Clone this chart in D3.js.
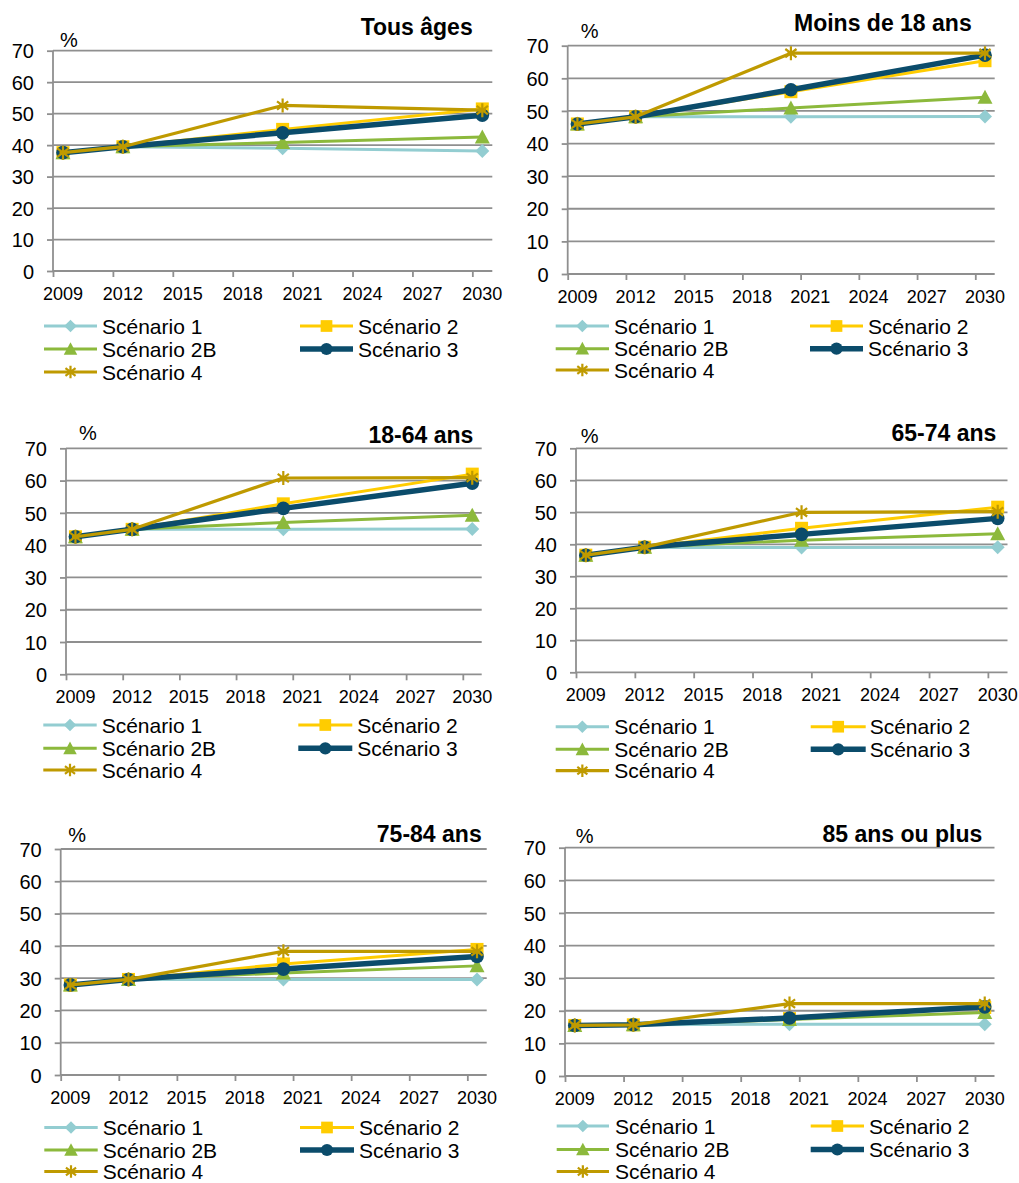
<!DOCTYPE html>
<html>
<head>
<meta charset="utf-8">
<script src="https://cdn.jsdelivr.net/npm/d3@7/dist/d3.min.js"></script>
<style>
  html, body { margin: 0; padding: 0; background: #fff; }
  svg { display: block; font-family: "Liberation Sans", Arial, sans-serif; }
</style>
</head>
<body>
<svg id="chart" width="1019" height="1183"></svg>
<script>
// ---------------- DATA ----------------
const years = [2009, 2012, 2020, 2030];
const xTickLabels = [2009, 2012, 2015, 2018, 2021, 2024, 2027, 2030];
const yTickValues = [0, 10, 20, 30, 40, 50, 60, 70];
const scenarios = ["Scénario 1", "Scénario 2", "Scénario 2B", "Scénario 3", "Scénario 4"];
const panelTitles = ["Tous âges", "Moins de 18 ans", "18-64 ans", "65-74 ans", "75-84 ans", "85 ans ou plus"];

// values per panel: one row per scenario (1, 2, 2B, 3, 4), columns = years
const tousAges = [
  [37.6, 39.5, 39.0, 38.1],
  [37.6, 39.5, 45.0, 51.5],
  [37.6, 39.5, 40.8, 42.6],
  [37.6, 39.5, 43.9, 49.5],
  [37.6, 39.5, 52.6, 51.1]
];
const moins18 = [
  [46.0, 48.2, 48.2, 48.3],
  [46.0, 48.2, 55.9, 65.4],
  [46.0, 48.2, 50.9, 54.2],
  [46.0, 48.2, 56.5, 67.1],
  [46.0, 48.2, 67.7, 67.7]
];
const ans18_64 = [
  [42.6, 44.9, 44.9, 45.0],
  [42.6, 44.9, 52.8, 62.0],
  [42.6, 44.9, 47.0, 49.3],
  [42.6, 44.9, 51.4, 59.2],
  [42.6, 44.9, 60.8, 60.9]
];
const ans65_74 = [
  [36.6, 39.1, 39.0, 39.1],
  [36.6, 39.1, 45.0, 51.6],
  [36.6, 39.1, 41.3, 43.3],
  [36.6, 39.1, 43.1, 48.1],
  [36.6, 39.1, 50.0, 50.2]
];
const ans75_84 = [
  [27.9, 29.6, 29.6, 29.6],
  [27.9, 29.6, 34.4, 38.9],
  [27.9, 29.6, 31.6, 33.8],
  [27.9, 29.6, 32.8, 36.7],
  [27.9, 29.6, 38.3, 38.3]
];
const ans85plus = [
  [15.5, 15.7, 15.9, 15.9],
  [15.5, 15.7, 17.6, 21.0],
  [15.5, 15.7, 17.3, 19.5],
  [15.5, 15.7, 17.8, 21.2],
  [15.5, 15.7, 22.2, 22.2]
];
const panelValues = [tousAges, moins18, ans18_64, ans65_74, ans75_84, ans85plus];

// ---------------- STYLE / LAYOUT ----------------
const colors = ["#93CDD1", "#FFCC00", "#8CB93C", "#0B4C6B", "#BF9A00"];
const widths = [3, 3, 3, 5.5, 3.2];
const markers = ["diamond", "square", "triangle", "circle", "star"];
const gridColor = "#8F8F8F";

const layout = [
  {l: 53,    r: 492.3, t: 50.7,  b: 271,    tx: 472.7, ty: 35,    px: 60,    py: 47,    rows: [326, 349, 372],       c1: [44, 97, 102],        c2: [300, 353, 358]},
  {l: 567.7, r: 994.7, t: 45.7,  b: 274,    tx: 971.7, ty: 30.7,  px: 580.7, py: 38,    rows: [326, 348.7, 370],     c1: [555.7, 609, 614],    c2: [810, 863, 868]},
  {l: 66,    r: 481.7, t: 448.3, b: 674.3,  tx: 473.3, ty: 442.7, px: 79,    py: 440,   rows: [725, 748.3, 770],     c1: [43.3, 96.7, 101.7],  c2: [298.3, 352.3, 357.3]},
  {l: 576,   r: 1007.5,t: 448.3, b: 672.3,  tx: 996.3, ty: 440.7, px: 580.7, py: 443.3, rows: [726.7, 749.3, 770.7], c1: [555.7, 609, 614.3],  c2: [810.7, 865.7, 869.7]},
  {l: 60.7,  r: 486.7, t: 849,   b: 1075,   tx: 481.7, ty: 841.7, px: 68.3,  py: 841.7, rows: [1127.5, 1150, 1171.5],c1: [44.3, 97.7, 102.7],  c2: [300, 354, 359]},
  {l: 565,   r: 994.5, t: 847.7, b: 1076,   tx: 982.3, ty: 841.7, px: 575.7, py: 843.3, rows: [1126, 1149.5, 1171.5],c1: [556.7, 609, 615],    c2: [810.7, 864, 869]}
];

const svg = d3.select("#chart");

function drawMarker(g, type, x, y, color, big) {
  const s = big ? 1 : 0.9;
  if (type === "diamond") {
    const h = 7 * s;
    g.append("path").attr("d", `M${x},${y-h}L${x+h},${y}L${x},${y+h}L${x-h},${y}Z`).attr("fill", color);
  } else if (type === "square") {
    const h = 6.5 * s;
    g.append("rect").attr("x", x-h).attr("y", y-h).attr("width", 2*h).attr("height", 2*h).attr("fill", color);
  } else if (type === "triangle") {
    const w = 7.5 * s, hh = 6.5 * s;
    g.append("path").attr("d", `M${x},${y-hh-1}L${x+w},${y+hh}L${x-w},${y+hh}Z`).attr("fill", color);
  } else if (type === "circle") {
    g.append("circle").attr("cx", x).attr("cy", y).attr("r", 6.8 * s).attr("fill", color);
  } else if (type === "star") {
    const h = 7 * s, d = 5.6 * s;
    g.append("path")
      .attr("d", `M${x},${y-h}L${x},${y+h}M${x-d},${y-d*0.75}L${x+d},${y+d*0.75}M${x-d},${y+d*0.75}L${x+d},${y-d*0.75}M${x-h*0.5},${y}L${x+h*0.5},${y}`)
      .attr("stroke", color).attr("stroke-width", 2.2).attr("fill", "none");
  }
}

panelValues.forEach((vals, pi) => {
  const L = layout[pi];
  const g = svg.append("g");
  const x = d3.scaleLinear().domain([2008.5, 2030.5]).range([L.l, L.r]);
  const y = d3.scaleLinear().domain([0, 70]).range([L.b, L.t]);

  // gridlines
  g.append("g").selectAll("line").data(yTickValues.filter(v => v > 0)).join("line")
    .attr("x1", L.l).attr("x2", L.r)
    .attr("y1", d => y(d)).attr("y2", d => y(d))
    .attr("stroke", gridColor).attr("stroke-width", 1.8);

  // y axis
  const yAxis = d3.axisLeft(y).tickValues(yTickValues).tickSize(6).tickPadding(13).tickFormat(d3.format("d"));
  const ya = g.append("g").attr("transform", `translate(${L.l},0)`).call(yAxis);
  ya.select(".domain").attr("stroke", gridColor).attr("stroke-width", 1.8).attr("d", `M0,${L.t}V${L.b}`);
  ya.selectAll(".tick line").attr("stroke", gridColor).attr("stroke-width", 1.8);
  ya.selectAll(".tick text").attr("font-size", 20).attr("fill", "#000")
    .attr("font-family", "'Liberation Sans', Arial, sans-serif").attr("dy", "0.36em");

  // x axis: ticks between year slots, labels centered on years
  const xTickPos = xTickLabels.map(v => v - 0.5);
  const xAxis = d3.axisBottom(x).tickValues(xTickPos).tickSize(6).tickFormat("");
  const xa = g.append("g").attr("transform", `translate(0,${L.b})`).call(xAxis);
  xa.select(".domain").attr("stroke", gridColor).attr("stroke-width", 1.8).attr("d", `M${L.l},0H${L.r}`);
  xa.selectAll(".tick line").attr("stroke", gridColor).attr("stroke-width", 1.8);
  g.append("g").selectAll("text").data(xTickLabels).join("text")
    .attr("x", d => x(d)).attr("y", L.b + 29)
    .attr("text-anchor", "middle").attr("font-size", 18).attr("fill", "#000")
    .text(d => d);

  // title and unit
  g.append("text").attr("x", L.tx).attr("y", L.ty).attr("text-anchor", "end")
    .attr("font-size", 23).attr("font-weight", "bold").attr("fill", "#000").text(panelTitles[pi]);
  g.append("text").attr("x", L.px).attr("y", L.py).attr("font-size", 20).attr("fill", "#000").text("%");

  // series
  const line = d3.line().x((d, i) => x(years[i])).y(d => y(d));
  vals.forEach((row, si) => {
    const sg = g.append("g");
    sg.append("path").datum(row).attr("d", line)
      .attr("fill", "none").attr("stroke", colors[si]).attr("stroke-width", widths[si])
      .attr("stroke-linejoin", "round");
    row.forEach((v, i) => drawMarker(sg, markers[si], x(years[i]), y(v), colors[si], true));
  });

  // legend
  const legPos = [
    [L.c1, L.rows[0]], [L.c2, L.rows[0]],
    [L.c1, L.rows[1]], [L.c2, L.rows[1]],
    [L.c1, L.rows[2]]
  ];
  scenarios.forEach((name, si) => {
    const [c, ry] = legPos[si];
    const lg = g.append("g");
    lg.append("line").attr("x1", c[0]).attr("x2", c[1]).attr("y1", ry).attr("y2", ry)
      .attr("stroke", colors[si]).attr("stroke-width", widths[si]);
    drawMarker(lg, markers[si], (c[0] + c[1]) / 2, ry, colors[si], false);
    lg.append("text").attr("x", c[2]).attr("y", ry).attr("dy", "0.36em")
      .attr("font-size", 21).attr("fill", "#000").text(name);
  });
});
</script>
</body>
</html>
